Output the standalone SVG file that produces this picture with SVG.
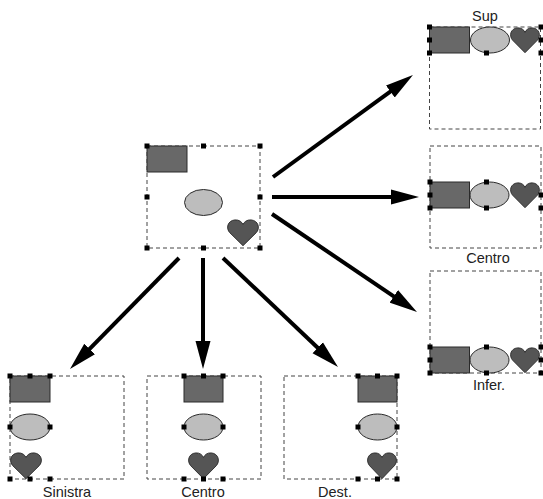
<svg xmlns="http://www.w3.org/2000/svg" xmlns:xlink="http://www.w3.org/1999/xlink" width="543" height="499" viewBox="0 0 543 499">
<style>
.box{fill:none;stroke:#444;stroke-width:1;stroke-dasharray:4,3}
.r{fill:#686868;stroke:#2a2a2a;stroke-width:1}
.e{fill:#bdbdbd;stroke:#2a2a2a;stroke-width:1}
.h{fill:#555}
.k{fill:#000}
.lbl{font-family:"Liberation Sans",Arial,sans-serif;font-size:14.5px;fill:#222;text-anchor:middle}
.arr{stroke:#000;stroke-width:4;fill:none;marker-end:url(#ah)}
</style>
<defs>
<marker id="ah" markerUnits="userSpaceOnUse" viewBox="-8 -8 28 16" markerWidth="28" markerHeight="16" refX="0" refY="0" orient="auto">
<path d="M-8,-7.5 L20,0 L-8,7.5 Z" fill="#000"/>
</marker>
<symbol id="heart" viewBox="0 0 100 88" preserveAspectRatio="none">
<path d="M50,87 L9,45 C-4,31 1,5 25,3 C38,2 47,10 50,18 C53,10 62,2 75,3 C99,5 104,31 91,45 Z" fill="#555" stroke="#2a2a2a" stroke-width="3"/>
</symbol>
<rect id="hd" x="-2.5" y="-2.5" width="5" height="5" fill="#000"/>
</defs>

<g id="connectors">
<line class="arr" x1="273" y1="177" x2="396.8" y2="86.8"/>
<line class="arr" x1="272" y1="197" x2="399" y2="197"/>
<line class="arr" x1="272" y1="214" x2="400.4" y2="300.8"/>
<line class="arr" x1="179" y1="258" x2="84" y2="354.7"/>
<line class="arr" x1="203" y1="258" x2="203" y2="349"/>
<line class="arr" x1="223" y1="258" x2="323.5" y2="353.2"/>
</g>

<g id="node-original">
<rect class="box" x="147" y="146" width="113" height="102"/>
<rect class="r" x="147" y="146" width="40" height="26"/>
<ellipse class="e" cx="203.5" cy="202.5" rx="19" ry="13"/>
<use xlink:href="#heart" x="227" y="219" width="32" height="27"/>
<use xlink:href="#hd" x="147" y="146"/><use xlink:href="#hd" x="203.5" y="146"/><use xlink:href="#hd" x="260" y="146"/>
<use xlink:href="#hd" x="147" y="197"/><use xlink:href="#hd" x="260" y="197"/>
<use xlink:href="#hd" x="147" y="248"/><use xlink:href="#hd" x="203.5" y="248"/><use xlink:href="#hd" x="260" y="248"/>
</g>

<g id="node-sup">
<text class="lbl" x="485" y="21">Sup</text>
<rect class="box" x="429.5" y="27" width="111" height="102"/>
<rect class="r" x="429.5" y="27" width="40" height="26"/>
<ellipse class="e" cx="490" cy="40" rx="19.5" ry="13"/>
<use xlink:href="#heart" x="510" y="27" width="30" height="26"/>
<use xlink:href="#hd" x="429.5" y="27"/><use xlink:href="#hd" x="429.5" y="40"/><use xlink:href="#hd" x="429.5" y="53"/>
<use xlink:href="#hd" x="486.5" y="53"/>
<use xlink:href="#hd" x="541" y="27"/><use xlink:href="#hd" x="541" y="40"/><use xlink:href="#hd" x="541" y="53"/>
</g>

<g id="node-centro-v">
<rect class="box" x="430" y="146" width="111" height="102"/>
<rect class="r" x="430" y="182" width="39.5" height="26"/>
<ellipse class="e" cx="489.5" cy="195" rx="19.5" ry="13"/>
<use xlink:href="#heart" x="510" y="182" width="30" height="26"/>
<use xlink:href="#hd" x="430" y="182"/><use xlink:href="#hd" x="430" y="195"/><use xlink:href="#hd" x="430" y="208"/>
<use xlink:href="#hd" x="486.5" y="182"/><use xlink:href="#hd" x="486.5" y="208"/>
<use xlink:href="#hd" x="541" y="195"/><use xlink:href="#hd" x="541" y="208"/>
<text class="lbl" x="488" y="263">Centro</text>
</g>

<g id="node-infer">
<rect class="box" x="430" y="271" width="111" height="102"/>
<rect class="r" x="430" y="347" width="39.5" height="26"/>
<ellipse class="e" cx="489.5" cy="360" rx="19.5" ry="13"/>
<use xlink:href="#heart" x="510" y="347" width="30" height="26"/>
<use xlink:href="#hd" x="430" y="347"/><use xlink:href="#hd" x="430" y="360"/><use xlink:href="#hd" x="430" y="373"/>
<use xlink:href="#hd" x="486.5" y="347"/><use xlink:href="#hd" x="486.5" y="373"/>
<use xlink:href="#hd" x="541" y="347"/><use xlink:href="#hd" x="541" y="360"/><use xlink:href="#hd" x="541" y="373"/>
<text class="lbl" x="489" y="390">Infer.</text>
</g>

<g id="node-sinistra">
<rect class="box" x="10" y="376" width="114" height="103"/>
<rect class="r" x="10" y="376" width="40" height="26"/>
<ellipse class="e" cx="30" cy="427" rx="20" ry="13"/>
<use xlink:href="#heart" x="10" y="452" width="32" height="27"/>
<use xlink:href="#hd" x="10" y="376"/><use xlink:href="#hd" x="30" y="376"/><use xlink:href="#hd" x="50" y="376"/>
<use xlink:href="#hd" x="10" y="427"/><use xlink:href="#hd" x="50" y="427"/>
<use xlink:href="#hd" x="10" y="479"/><use xlink:href="#hd" x="30" y="479"/><use xlink:href="#hd" x="50" y="479"/>
<text class="lbl" x="67" y="497">Sinistra</text>
</g>

<g id="node-centro-h">
<rect class="box" x="147" y="376" width="114" height="103"/>
<rect class="r" x="184" y="376" width="39" height="26"/>
<ellipse class="e" cx="203.5" cy="427" rx="19.5" ry="13"/>
<use xlink:href="#heart" x="188" y="452" width="31" height="27"/>
<use xlink:href="#hd" x="184" y="376"/><use xlink:href="#hd" x="203.5" y="376"/><use xlink:href="#hd" x="223" y="376"/>
<use xlink:href="#hd" x="184" y="427"/><use xlink:href="#hd" x="223" y="427"/>
<use xlink:href="#hd" x="184" y="479"/><use xlink:href="#hd" x="203.5" y="479"/><use xlink:href="#hd" x="223" y="479"/>
<text class="lbl" x="203" y="497">Centro</text>
</g>

<g id="node-dest">
<rect class="box" x="284" y="376" width="113" height="103"/>
<rect class="r" x="358" y="376" width="39" height="26"/>
<ellipse class="e" cx="377.5" cy="427" rx="19.5" ry="13"/>
<use xlink:href="#heart" x="367" y="452" width="30" height="27"/>
<use xlink:href="#hd" x="358" y="376"/><use xlink:href="#hd" x="377.5" y="376"/><use xlink:href="#hd" x="397" y="376"/>
<use xlink:href="#hd" x="358" y="427"/><use xlink:href="#hd" x="397" y="427"/>
<use xlink:href="#hd" x="358" y="479"/><use xlink:href="#hd" x="377.5" y="479"/><use xlink:href="#hd" x="397" y="479"/>
<text class="lbl" x="335" y="497">Dest.</text>
</g>
</svg>
